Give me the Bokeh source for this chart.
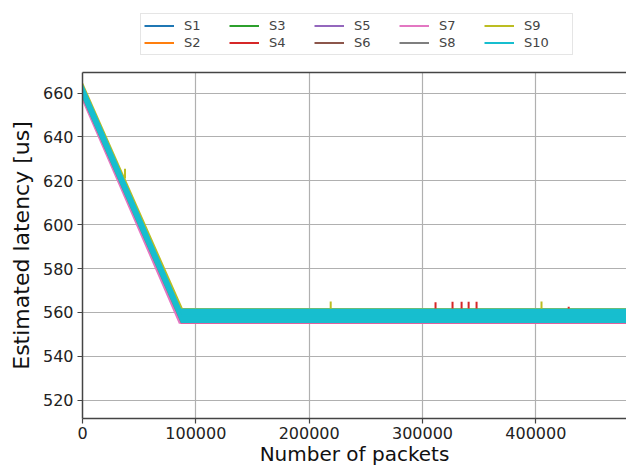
from bokeh.plotting import figure
from bokeh.layouts import column
from bokeh.models import (Legend, LegendItem, Range1d, FixedTicker, ColumnDataSource,
                          LinearAxis)
from bokeh.embed import file_html
from bokeh.resources import INLINE

# ---- data ----
series = ["S1", "S2", "S3", "S4", "S5", "S6", "S7", "S8", "S9", "S10"]
colors = ["#1f77b4", "#ff7f0e", "#2ca02c", "#d62728", "#9467bd",
          "#8c564b", "#e377c2", "#7f7f7f", "#bcbd22", "#17becf"]
# value at packet 0, packet where the descent ends, plateau level, noise spread
start_val = [660.6, 660.8, 660.6, 660.7, 660.3, 660.1, 659.5, 660.6, 661.8, 661.1]
knee_x    = [86500, 86800, 86600, 86700, 86000, 85800, 85000, 86600, 88400, 87000]
plateau   = [558.4, 558.5, 558.4, 558.3, 558.4, 558.4, 558.2, 558.4, 558.55, 558.45]
spread    = [6.4, 6.6, 6.4, 7.2, 6.4, 6.4, 6.8, 6.4, 6.9, 6.7]
last_packet = 480000

# occasional outliers: series index, packet, base, peak
spike_series = [8, 8, 3, 3, 3, 3, 3, 8, 3]
spike_x      = [37500, 219000, 311500, 326500, 334500, 340700, 347700, 405000, 429000]
spike_base   = [621.0, 561.8, 561.8, 561.8, 561.8, 561.8, 561.8, 561.8, 561.8]
spike_peak   = [625.5, 565.0, 564.6, 564.8, 564.8, 564.8, 564.8, 565.0, 562.6]

x_ticks = [0, 100000, 200000, 300000, 400000]
y_ticks = [520, 540, 560, 580, 600, 620, 640, 660]

FONT = "DejaVu Sans"
W = 626
LEG_H = 60

# ---------- main plot ----------
p = figure(width=W, height=468 - LEG_H, output_backend="svg", toolbar_location=None,
           x_range=Range1d(0, 480000), y_range=Range1d(511.6, 669.4),
           min_border_left=82, min_border_right=0, min_border_top=12,
           min_border_bottom=48)
p.background_fill_color = "white"
p.border_fill_color = "white"
p.outline_line_color = None

for i, name in enumerate(series):
    xs = [0, knee_x[i], last_packet]
    mid = [start_val[i], plateau[i], plateau[i]]
    lo = [v - spread[i] / 2 for v in mid]
    hi = [v + spread[i] / 2 for v in mid]
    p.varea(x=xs, y1=lo, y2=hi, fill_color=colors[i], fill_alpha=1.0)
    p.line(xs, mid, line_color=colors[i], line_width=2)

src = ColumnDataSource(dict(
    x=spike_x, y0=spike_base, y1=spike_peak,
    c=[colors[s] for s in spike_series]))
p.segment(x0="x", y0="y0", x1="x", y1="y1", line_color="c", line_width=2, source=src)

xb = p.below[0]
yl = p.left[0]

for ax in (xb, yl):
    ax.axis_line_color = "#444444"
    ax.axis_line_width = 1.5
    ax.major_tick_line_color = "#444444"
    ax.major_tick_line_width = 1.2
    ax.major_tick_out = 5
    ax.major_tick_in = 0
    ax.minor_tick_line_color = None
    ax.major_label_text_font = FONT
    ax.major_label_text_font_size = "16px"
    ax.major_label_text_color = "#222222"
    ax.major_label_standoff = 4
    ax.axis_label_text_font = FONT
    ax.axis_label_text_font_style = "normal"
    ax.axis_label_text_color = "#111111"

xb.ticker = FixedTicker(ticks=x_ticks)
yl.ticker = FixedTicker(ticks=y_ticks)
xb.formatter.use_scientific = False
xb.major_label_standoff = 3

yl.axis_label = "Estimated latency [us]"
yl.axis_label_text_font_size = "22px"
yl.axis_label_standoff = 6

xb.axis_label = "Number of packets"
xb.axis_label_text_font_size = "20px"
xb.axis_label_standoff = 0

p.xgrid.grid_line_color = "#b0b0b0"
p.ygrid.grid_line_color = "#b0b0b0"
p.xgrid.grid_line_width = 1.2
p.ygrid.grid_line_width = 1.2

# top border as an empty axis
top = LinearAxis(ticker=FixedTicker(ticks=[]), axis_line_color="#444444",
                 axis_line_width=1.5, major_tick_line_color=None,
                 minor_tick_line_color=None)
p.add_layout(top, "above")

# ---------- legend strip ----------
leg = figure(width=W, height=LEG_H, output_backend="svg", toolbar_location=None,
             x_range=Range1d(-2, -1), y_range=Range1d(-2, -1),
             min_border_left=82, min_border_right=0,
             min_border_top=0, min_border_bottom=0)
leg.axis.visible = False
leg.grid.visible = False
leg.outline_line_color = None
items = []
for i, name in enumerate(series):
    xs = [0, knee_x[i], last_packet]
    mid = [start_val[i], plateau[i], plateau[i]]
    r = leg.line(xs, mid, line_color=colors[i], line_width=2)
    items.append(LegendItem(label=name, renderers=[r]))
legend = Legend(items=items, orientation="vertical", ncols=5,
                location=(58, LEG_H - 55), margin=0, padding=3, spacing=0,
                glyph_width=30, glyph_height=17, label_height=17, label_width=45,
                label_standoff=10,
                label_text_font=FONT, label_text_font_size="13px",
                border_line_color="#cccccc", border_line_width=1,
                background_fill_color="white", background_fill_alpha=1.0)
leg.add_layout(legend, "center")

layout = column(leg, p, spacing=0)
open("out.html", "w").write(file_html(layout, INLINE))
